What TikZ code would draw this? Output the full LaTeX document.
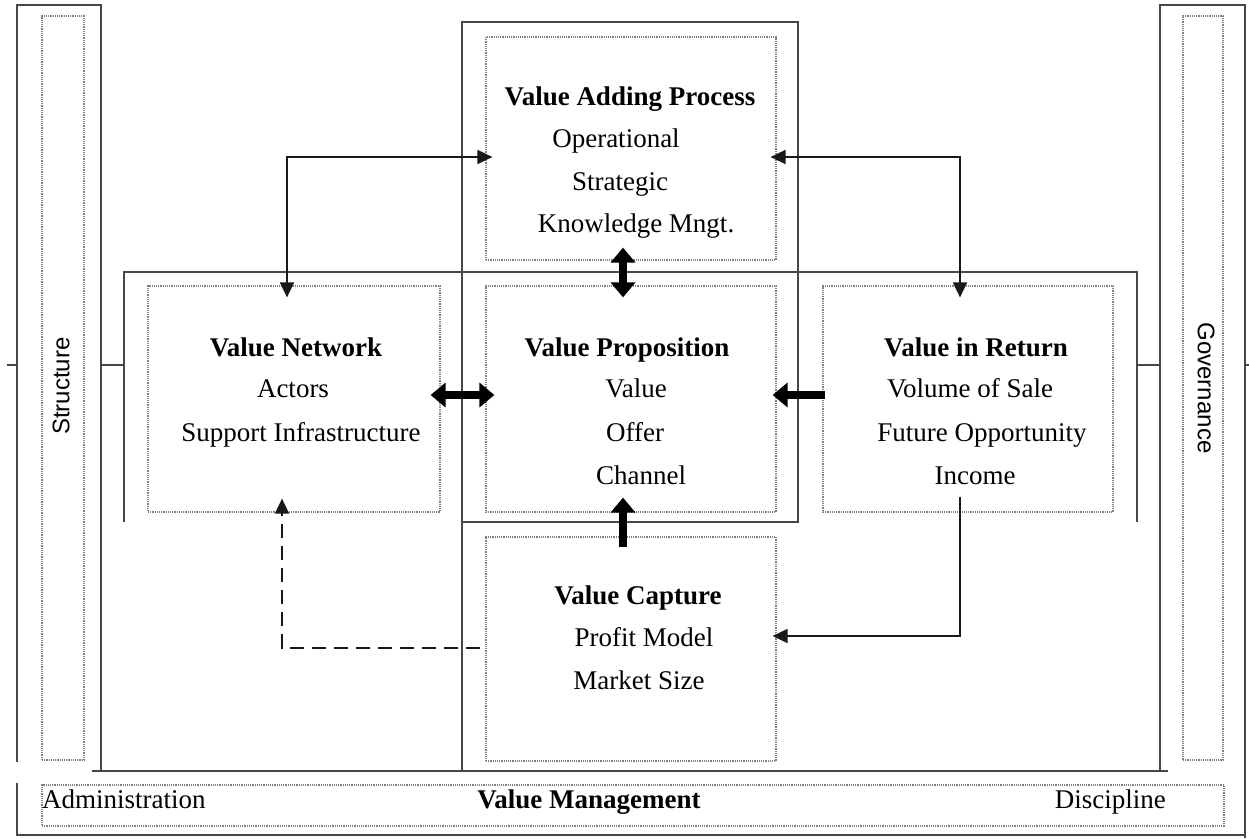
\documentclass[tikz,border=0pt]{standalone}
\usepackage{fontspec}
\setmainfont{Liberation Serif}
\newfontfamily\sansf{Liberation Sans}
\usetikzlibrary{arrows.meta,calc}
\begin{document}
\begin{tikzpicture}[x=1pt,y=-1pt,
  frame/.style={line width=2pt, draw=black!72},
  dotbox/.style={draw=black!50, densely dotted, line width=1.2pt, inner sep=0pt},
  txt/.style={anchor=base, inner sep=0pt, font=\fontsize{27}{30}\selectfont},
  btxt/.style={txt, font=\fontsize{27}{30}\selectfont\bfseries},
  sidetxt/.style={inner sep=0pt, font=\sansf\fontsize{24}{26}\selectfont},
  thinboth/.style={line width=1.8pt, draw=black!90, {Triangle[length=15pt,width=14pt]}-{Triangle[length=15pt,width=14pt]}},
  thinarr/.style={line width=1.8pt, draw=black!90, -{Triangle[length=15pt,width=14pt]}},
  dasharr/.style={thinarr, dash pattern=on 14pt off 8pt},
  thickboth/.style={line width=8pt, {Triangle[length=15pt,width=24pt]}-{Triangle[length=15pt,width=24pt]}},
  thickarr/.style={line width=8pt, -{Triangle[length=15pt,width=24pt]}}
]
\useasboundingbox (0,0) rectangle (1249,838);

% side bars and frame lines
\draw[frame] (17,762) -- (17,5) -- (101,5) -- (101,771);
\draw[frame] (1160,771) -- (1160,5) -- (1245,5) -- (1245,838);
\draw[frame] (17,783) -- (17,835) -- (1245,835);
\draw[frame] (92,771) -- (1168,771);
\draw[frame] (462,771) -- (462,22) -- (798,22) -- (798,522) -- (462,522);
\draw[frame] (124,522) -- (124,272) -- (1137,272) -- (1137,522);
\draw[frame] (101,365) -- (124,365);
\draw[frame] (1137,365) -- (1160,365);
\draw[frame] (7,365) -- (17,365);
\draw[frame] (1245,365) -- (1249,365);

% inner dotted bars
\node[dotbox, minimum width=42pt, minimum height=744pt] (lbar) at (63,388) {};
\node[dotbox, minimum width=40pt, minimum height=744pt] (rbar) at (1203,388) {};
\node[dotbox, minimum width=1182pt, minimum height=41pt] (bbar) at (633,805.5) {};

\node[sidetxt, rotate=90] (structure) at (61,386) {Structure};
\node[sidetxt, rotate=-90] (governance) at (1206,388) {Governance};

% dotted boxes
\node[dotbox, minimum width=290pt, minimum height=223pt] (vap) at (631,148.5) {};
\node[dotbox, minimum width=292pt, minimum height=226pt] (vn) at (294,399) {};
\node[dotbox, minimum width=290pt, minimum height=226pt] (vp) at (631,399) {};
\node[dotbox, minimum width=290pt, minimum height=226pt] (vr) at (968,399) {};
\node[dotbox, minimum width=290pt, minimum height=224pt] (vc) at (631,649) {};

% texts
\node[btxt] (t1) at (630,105) {Value Adding Process};
\node[txt] (t2) at (616,147) {Operational};
\node[txt] (t3) at (620,190) {Strategic};
\node[txt] (t4) at (636,232) {Knowledge Mngt.};

\node[btxt] (n1) at (296,356) {Value Network};
\node[txt] (n2) at (293,397) {Actors};
\node[txt] (n3) at (301,441) {Support Infrastructure};

\node[btxt] (p1) at (627,356) {Value Proposition};
\node[txt] (p2) at (636,397) {Value};
\node[txt] (p3) at (635,441) {Offer};
\node[txt] (p4) at (641,484) {Channel};

\node[btxt] (r1) at (976,356) {Value in Return};
\node[txt] (r2) at (970,397) {Volume of Sale};
\node[txt] (r3) at (982,441) {Future Opportunity};
\node[txt] (r4) at (975,484) {Income};

\node[btxt] (c1) at (638,604) {Value Capture};
\node[txt] (c2) at (644,646) {Profit Model};
\node[txt] (c3) at (639,689) {Market Size};

\node[txt, anchor=base west] (adm) at (42,808) {Administration};
\node[btxt] (vm) at (589,808) {Value Management};
\node[txt, anchor=base east] (disc) at (1166,808) {Discipline};

% connectors
\draw[thinboth] ($(vn.north)+(-7,12)$) |- ($(vap.west)+(7,8.5)$);
\draw[thinboth] ($(vap.east)+(-6,8.5)$) -| ($(vr.north)+(-8,12)$);
\draw[thickboth] ($(vap.south)+(-8,-13)$) -- ($(vp.north)+(-8,12)$);
\draw[thickboth] ($(vn.east)+(-10,-4)$) -- ($(vp.west)+(9,-4)$);
\draw[thickarr] ($(vr.west)+(3,-4)$) -- ($(vp.east)+(-4,-4)$);
\draw[thickarr] ($(vc.north)+(-8,11)$) -- ($(vp.south)+(-8,-15)$);
\draw[thinarr] ($(vr.south)+(-8,-16)$) |- ($(vc.east)+(-4,-13)$);
\draw[dasharr] ($(vc.west)+(-5,-1)$) -| ($(vn.south)+(-12,-14)$);
\end{tikzpicture}
\end{document}
